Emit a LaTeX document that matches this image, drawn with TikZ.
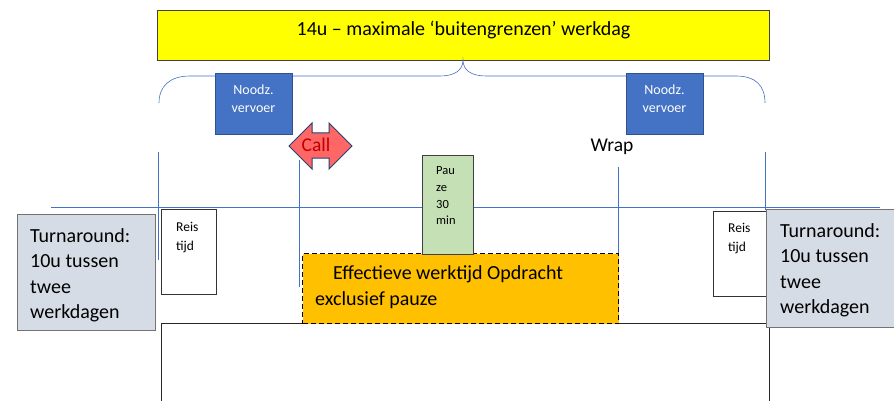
\documentclass[tikz,border=0pt]{standalone}
\usepackage{fontspec}
\setmainfont{Carlito}
\definecolor{ylw}{HTML}{FFFF00}
\definecolor{lblue}{HTML}{4472C4}
\definecolor{dblue}{HTML}{2F528F}
\definecolor{callred}{HTML}{FF6666}
\definecolor{calltxt}{HTML}{C00000}
\definecolor{pgreen}{HTML}{C5E0B4}
\definecolor{orng}{HTML}{FFC000}
\definecolor{tgray}{HTML}{D6DCE5}
\tikzset{
  boxbase/.style={draw, line width=1pt, anchor=north west, inner sep=0pt},
  guide/.style={draw=lblue, line width=0.6pt},
  noodz/.style={boxbase, fill=lblue, draw=dblue, minimum width=77pt, minimum height=61pt},
  noodztxt/.style={anchor=base, text=white, inner sep=0pt, font=\fontsize{14}{16}\selectfont},
  reis/.style={boxbase, draw=black!80, fill=white, minimum width=55pt, minimum height=85pt},
  turn/.style={boxbase, draw=black!55, fill=tgray, minimum height=116pt},
  bigtxt/.style={anchor=base west, inner sep=0pt, font=\fontsize{20}{24}\selectfont},
  smalltxt/.style={anchor=base west, inner sep=0pt, font=\fontsize{13.5}{16}\selectfont},
  tinytxt/.style={anchor=base west, inner sep=0pt, font=\fontsize{12.5}{15}\selectfont},
}
\begin{document}
\begin{tikzpicture}[x=1pt,y=-1pt]
\useasboundingbox (0,0) rectangle (894,401);
% yellow header
\node[boxbase, fill=ylw, draw=black!75, minimum width=612pt, minimum height=50pt] (top) at (157,10) {};
\node[anchor=base, inner sep=0pt, font=\fontsize{20}{24}\selectfont] (toptxt) at (463.5,36) {14u – maximale ‘buitengrenzen’ werkdag};
% brace
\draw[guide] (159,103) .. controls (159,86) and (170,76) .. (190,76) -- (440,76)
  .. controls (455,76) and (463,70) .. (463,60)
  .. controls (463,70) and (471,76) .. (486,76) -- (736,76)
  .. controls (756,76) and (765,86) .. (765,103);
% guide lines
\draw[guide] (51,207) -- (880,207);
\draw[guide] (158,152) -- (158,260);
\draw[guide] (299,160) -- (299,287);
\draw[guide] (618,167) -- (618,253);
\draw[guide] (765,152) -- (765,210);
% Noodz boxes
\node[noodz] (n1) at (215,73) {};
\node[noodztxt] (n1a) at (253.5,95) {Noodz.};
\node[noodztxt] (n1b) at (253.5,113) {vervoer};
\node[noodz] (n2) at (626,73) {};
\node[noodztxt] (n2a) at (664.5,95) {Noodz.};
\node[noodztxt] (n2b) at (664.5,113) {vervoer};
% Call double arrow
\draw[fill=callred, draw=dblue!80!black, line width=1pt] (289,146) -- (312,123) -- (312,133) -- (329,133) -- (329,123) -- (352,146) -- (329,169) -- (329,158) -- (312,158) -- (312,169) -- cycle;
\node[anchor=base, inner sep=0pt, text=calltxt, font=\fontsize{19.5}{22}\selectfont] (call) at (316,152) {Call};
% Wrap
\node[anchor=base, inner sep=0pt, font=\fontsize{19.5}{22}\selectfont] (wrap) at (612,151) {Wrap};
% big white box
\draw[line width=1pt, draw=black!85] (161,401) -- (161,323) -- (769,323) -- (769,401);
% orange box
\node[boxbase, fill=orng, draw=black, line width=1.2pt, dash pattern=on 5pt off 3pt, minimum width=316pt, minimum height=70pt] (work) at (302,253) {};
\node[bigtxt] (w1) at (333,279) {Effectieve werktijd Opdracht};
\node[bigtxt] (w2) at (315,305) {exclusief pauze};
% pauze
\node[boxbase, fill=pgreen, draw=black!75, minimum width=51pt, minimum height=99pt] (pauze) at (422,155) {};
\node[tinytxt] (p1) at (436,175) {Pau};
\node[tinytxt] (p2) at (436,191.5) {ze};
\node[tinytxt] (p3) at (436,208) {30};
\node[tinytxt] (p4) at (436,224.5) {min};
% reis boxes
\node[reis] (r1) at (161,209) {};
\node[smalltxt] (r1a) at (176,231) {Reis};
\node[smalltxt] (r1b) at (176,250) {tijd};
\node[reis] (r2) at (713,211) {};
\node[smalltxt] (r2a) at (728,232) {Reis};
\node[smalltxt] (r2b) at (728,251) {tijd};
% turnaround boxes
\node[turn, minimum width=138pt] (t1) at (17,214) {};
\node[bigtxt] (t1a) at (30,242) {Turnaround:};
\node[bigtxt] (t1b) at (30,267.5) {10u tussen};
\node[bigtxt] (t1c) at (30,293) {twee};
\node[bigtxt] (t1d) at (30,318.5) {werkdagen};
\node[turn, minimum width=130pt, minimum height=118pt] (t2) at (766,209) {};
\node[bigtxt] (t2a) at (780,237) {Turnaround:};
\node[bigtxt] (t2b) at (780,262.5) {10u tussen};
\node[bigtxt] (t2c) at (780,288) {twee};
\node[bigtxt] (t2d) at (780,313.5) {werkdagen};
\end{tikzpicture}
\end{document}
